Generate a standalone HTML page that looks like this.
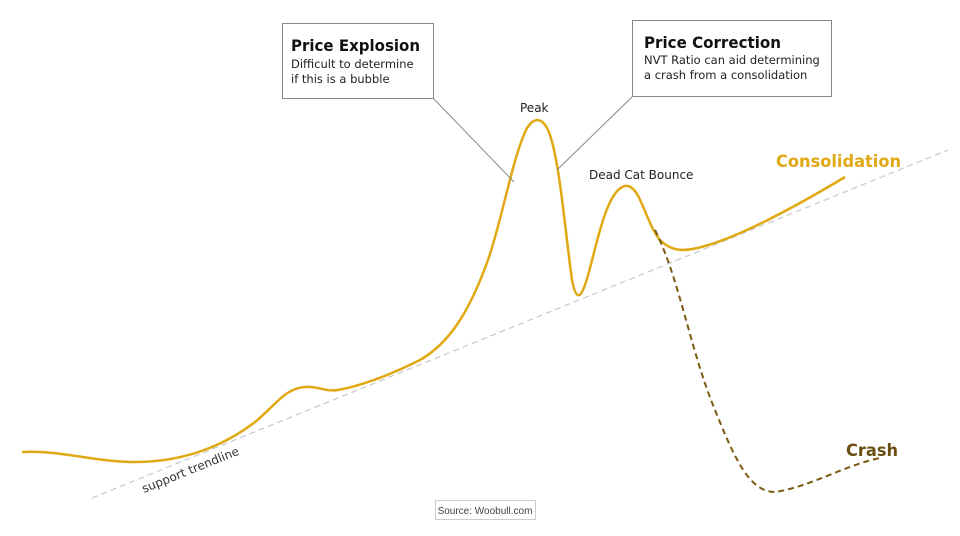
<!DOCTYPE html>
<html><head><style>
body{margin:0;background:#fff;width:960px;height:532px;overflow:hidden;font-family:"DejaVu Sans","Liberation Sans",sans-serif}
</style></head><body>
<svg width="960" height="532" viewBox="0 0 960 532" xmlns="http://www.w3.org/2000/svg">
<line x1="92" y1="498" x2="948" y2="150" stroke="#c8c8c8" stroke-width="1.2" stroke-dasharray="6,4"/>
<text x="0" y="0" font-size="12" fill="#333" transform="translate(144,493) rotate(-22)" font-family="DejaVu Sans,sans-serif">support trendline</text>
<path d="M22,452 C60,450 95,462 135,462 C185,462 225,445 255,422 C275,406 285,388 305,387 C318,386 325,392 338,390 C370,384 400,370 420,360 C450,343 470,310 488,260 C502,220 512,160 526,130 C533,117 543,115 550,135 C560,165 565,230 572,280 C576,300 580,300 586,282 C595,255 605,190 625,186 C640,183 645,222 660,240 C672,252 685,252 705,246 C740,236 790,210 845,177" fill="none" stroke="#e0a812" stroke-width="2.5"/>
<path d="M655,230 C680,280 690,350 715,410 C735,460 750,492 775,492 C810,487 845,465 880,458" fill="none" stroke="#7a5a10" stroke-width="2" stroke-dasharray="6,4"/>
<line x1="433" y1="98" x2="514" y2="182" stroke="#888" stroke-width="1"/>
<line x1="633" y1="96" x2="557" y2="170" stroke="#888" stroke-width="1"/>
<rect x="282.5" y="23.5" width="151" height="75" fill="#fff" stroke="#888"/>
<text x="291" y="51" font-size="16" font-weight="bold" fill="#111" textLength="129" lengthAdjust="spacingAndGlyphs">Price Explosion</text>
<text x="291" y="68" font-size="11.5" fill="#222">Difficult to determine</text>
<text x="291" y="83" font-size="11.5" fill="#222">if this is a bubble</text>
<rect x="632.5" y="20.5" width="199" height="76" fill="#fff" stroke="#888"/>
<text x="644" y="48" font-size="16" font-weight="bold" fill="#111" textLength="137" lengthAdjust="spacingAndGlyphs">Price Correction</text>
<text x="644" y="64" font-size="11.5" fill="#222">NVT Ratio can aid determining</text>
<text x="644" y="79" font-size="11.5" fill="#222">a crash from a consolidation</text>
<text x="520" y="112" font-size="12" fill="#222">Peak</text>
<text x="589" y="179" font-size="12" fill="#222">Dead Cat Bounce</text>
<text x="776" y="167" font-size="17" font-weight="bold" fill="#e0a812" textLength="125" lengthAdjust="spacingAndGlyphs">Consolidation</text>
<text x="846" y="456" font-size="17" font-weight="bold" fill="#6a4e10" textLength="52" lengthAdjust="spacingAndGlyphs">Crash</text>
<rect x="435.5" y="500.5" width="100" height="19" fill="#fff" stroke="#ccc"/>
<text x="485" y="514" font-size="10" fill="#444" text-anchor="middle" font-family="Liberation Sans,sans-serif">Source: Woobull.com</text>
</svg>
</body></html>
